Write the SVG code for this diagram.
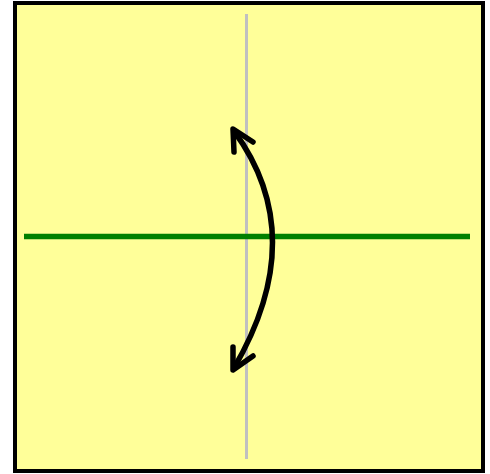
<svg xmlns="http://www.w3.org/2000/svg" width="490" height="474" viewBox="0 0 490 474">
<style>
.paper{fill:#ffff99;stroke:#000;stroke-width:4}
.crease{stroke:#c0c0c0;stroke-width:3;fill:none}
.fold{stroke:#008000;stroke-width:5.5;fill:none}
.arrow{stroke:#000;stroke-width:5.5;fill:none;stroke-linecap:round;stroke-linejoin:round}
</style>
<g id="paper"><rect class="paper" x="15" y="3" width="468" height="468"/></g>
<g id="lines">
<line class="crease" x1="246.5" y1="14" x2="246.5" y2="459"/>
<line class="fold" x1="24" y1="236.5" x2="470" y2="236.5"/>
</g>
<g id="connectors">
<path class="arrow" d="M234,131 Q311,236 234,368"/>
<path class="arrow" d="M234,152 L233,129 L253,142"/>
<path class="arrow" d="M233,347 L233,370 L253,356"/>
</g>
</svg>
